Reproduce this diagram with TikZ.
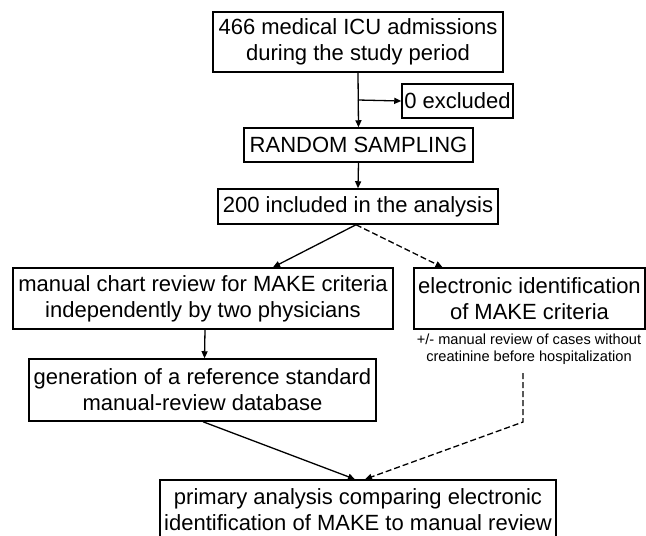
\documentclass[tikz,border=0pt]{standalone}
\usepackage{fontspec}
\setmainfont{Liberation Sans}
\usetikzlibrary{arrows.meta}

\tikzset{
  box/.style={draw,line width=1.5pt,align=center,inner sep=0pt,
    font=\fontsize{22}{26}\selectfont},
  arr/.style={line width=1.3pt,-{Triangle[length=7pt,width=6pt]}},
  dasharr/.style={arr,dash pattern=on 6pt off 3pt},
}

\begin{document}
\begin{tikzpicture}[x=1pt,y=-1pt]
	\useasboundingbox (0,0) rectangle (646,536);

	%boxes
	\node[box,minimum width=290pt,minimum height=60pt] (adm) at (358,42)
	  {466 medical ICU admissions\\during the study period};
	\node[box,minimum width=111pt,minimum height=34pt] (excl) at (457.5,101) {0 excluded};
	\node[box,minimum width=229pt,minimum height=34pt] (rand) at (358.5,145) {RANDOM SAMPLING};
	\node[box,minimum width=280pt,minimum height=35pt] (incl) at (358,206.5) {200 included in the analysis};
	\node[box,minimum width=380pt,minimum height=61pt] (manual) at (203,298.5)
	  {manual chart review for MAKE criteria\\independently by two physicians};
	\node[box,minimum width=231pt,minimum height=61pt] (elec) at (529.5,298.5)
	  {electronic identification\\of MAKE criteria};
	\node[align=center,inner sep=0pt,font=\fontsize{14.6}{16.5}\selectfont] (note) at (529,349)
	  {+/- manual review of cases without\\creatinine before hospitalization};
	\node[box,minimum width=347pt,minimum height=62pt] (gen) at (202.5,390)
	  {generation of a reference standard\\manual-review database};
	\node[box,minimum width=396pt,minimum height=60pt] (prim) at (358,510)
	  {primary analysis comparing electronic\\identification of MAKE to manual review};

	%helper points
	\coordinate (split) at (358,100); %exclusion branch
	\coordinate (dtop) at (523,373); %below note
	\coordinate (bend) at (523,422); %dashed corner

	%solid arrows
	\draw[arr] (adm.south) -- (rand.north);
	\draw[arr] (split) -- (excl.west);
	\draw[arr] (rand.south) -- (incl.north);
	\draw[arr] ([xshift=-2pt]incl.south) -- ([xshift=70pt]manual.north);
	\draw[arr] ([xshift=2pt]manual.south) -- ([xshift=2pt]gen.north);
	\draw[arr] ([xshift=0.5pt]gen.south) -- ([xshift=-3pt]prim.north);

	%dashed arrows
	\draw[dasharr] ([xshift=-2pt]incl.south) -- ([xshift=-87pt]elec.north);
	\draw[dasharr] (dtop) -- (bend) -- ([xshift=7pt]prim.north);
\end{tikzpicture}
\end{document}
